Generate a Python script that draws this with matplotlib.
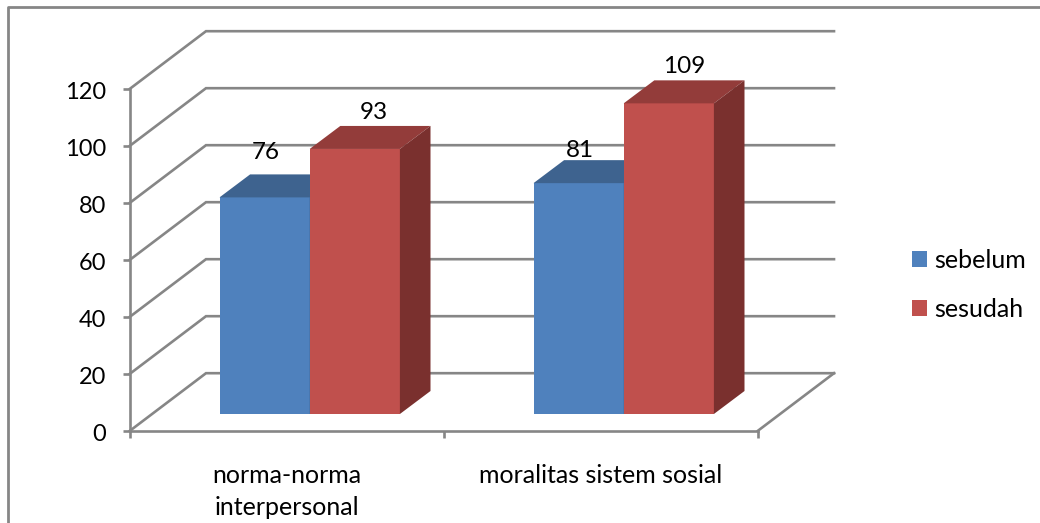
import matplotlib
matplotlib.use("Agg")
import matplotlib.pyplot as plt
from matplotlib.patches import Patch, Polygon
from matplotlib.lines import Line2D
from matplotlib.transforms import ScaledTranslation

categorias = ["norma-norma\ninterpersonal", "moralitas sistem sosial"]
sebelum = [76, 81]
sesudah = [93, 109]
series = ["sebelum", "sesudah"]
ticks_y = [0, 20, 40, 60, 80, 100, 120]

W, H = 1040, 523
GRIS = "#868686"
AZUL, AZUL_TOP = "#4F81BD", "#3E638F"
ROJO, ROJO_TOP, ROJO_LADO = "#C0504D", "#933C3A", "#7A302E"
FS = 17.5
FS_TXT = 18
LW = 1.9

# caja del eje en pixeles (izq, arriba, der, abajo)
X0, Y_TOP, X1, Y_BOT = 130, 88.7, 758, 430.7
PX_X = (X1 - X0) / 2
PX_Y = (Y_BOT - Y_TOP) / 120

# profundidad de la pared, del piso y de las barras
PARED_X, PARED_Y = 76 / PX_X, 57.5 / PX_Y
BARRA_X, BARRA_Y = 30.6 / PX_X, 23 / PX_Y
PISO = 16.7 / PX_Y
INICIO = 89.5 / PX_X
ANCHO = 90.2 / PX_X

plt.rcParams["font.family"] = ["Lato", "DejaVu Sans"]
fig = plt.figure(figsize=(W / 100, H / 100), dpi=100)
ax = fig.add_axes([X0 / W, 1 - Y_BOT / H, (X1 - X0) / W, (Y_BOT - Y_TOP) / H])
ax.set_xlim(0, 2)
ax.set_ylim(0, 120)
ax.patch.set_visible(False)

# marco exterior del grafico, se corta en los bordes derecho e inferior
fig.add_artist(Line2D([8 / W, 8 / W, 1], [0, 1 - 7 / H, 1 - 7 / H], color=GRIS, lw=2))

for s in ["top", "right"]:
    ax.spines[s].set_visible(False)
for s in ["left", "bottom"]:
    ax.spines[s].set_color(GRIS)
    ax.spines[s].set_linewidth(LW)

ax.set_yticks(ticks_y)
ax.tick_params(axis="y", colors=GRIS, labelcolor="black", labelsize=17, length=5, width=LW, pad=12)
# las etiquetas del eje y van un poco por debajo de su marca
baja = ScaledTranslation(0, -2 / 100, fig.dpi_scale_trans)
for t in ax.get_yticklabels():
    t.set_transform(t.get_transform() + baja)
ax.set_xticks([0, 1, 2])
ax.set_xticklabels([])
ax.tick_params(axis="x", colors=GRIS, length=5, width=LW)
ax.set_xticks([0.5, 1.5], minor=True)
ax.set_xticklabels(categorias, minor=True, fontsize=FS_TXT, color="black", linespacing=1.45)
ax.tick_params(axis="x", which="minor", length=0, pad=24)

# pared del fondo y diagonales
for v in ticks_y:
    ax.plot([0, PARED_X, 2 + PARED_X], [v, v + PARED_Y, v + PARED_Y], color=GRIS, lw=LW,
            clip_on=False, zorder=1, solid_joinstyle="miter")
ax.plot([2, 2 + PARED_X], [0, PARED_Y], color=GRIS, lw=LW, clip_on=False, zorder=1)


def barra_3d(x, valor, frente, techo, lado, z):
    # cara frontal con bar, techo y lado como poligonos
    ax.bar(x, valor, ANCHO, bottom=PISO, align="edge", color=frente, zorder=z, clip_on=False)
    arriba = PISO + valor
    der = x + ANCHO
    ax.add_patch(Polygon([(x, arriba), (der, arriba), (der + BARRA_X, arriba + BARRA_Y),
                          (x + BARRA_X, arriba + BARRA_Y)], color=techo, lw=0, zorder=z, clip_on=False))
    ax.add_patch(Polygon([(der, PISO), (der + BARRA_X, PISO + BARRA_Y), (der + BARRA_X, arriba + BARRA_Y),
                          (der, arriba)], color=lado, lw=0, zorder=z, clip_on=False))


# desplazamiento de cada etiqueta de valor respecto de su barra, en pixeles
despl_sebelum = [(1, 45), (1, 33)]
despl_sesudah = [(19, 36), (15, 37)]

for i in range(len(categorias)):
    x_a = i + INICIO
    x_r = x_a + ANCHO
    barra_3d(x_a, sebelum[i], AZUL, AZUL_TOP, AZUL_TOP, 2)
    barra_3d(x_r, sesudah[i], ROJO, ROJO_TOP, ROJO_LADO, 3)
    ax.annotate(str(sebelum[i]), (x_a + ANCHO / 2, PISO + sebelum[i]), xytext=despl_sebelum[i],
                textcoords="offset pixels", ha="center", va="center", fontsize=FS, zorder=5, annotation_clip=False)
    ax.annotate(str(sesudah[i]), (x_r + ANCHO / 2, PISO + sesudah[i]), xytext=despl_sesudah[i],
                textcoords="offset pixels", ha="center", va="center", fontsize=FS, zorder=5, annotation_clip=False)

handles = [Patch(color=AZUL, lw=0), Patch(color=ROJO, lw=0)]
fig.legend(handles, series, loc="upper left", bbox_to_anchor=(912 / W, 1 - 248.5 / H), frameon=False,
           fontsize=FS_TXT, handlelength=0.6, handleheight=0.6, handletextpad=0.3,
           labelspacing=1.05, borderpad=0, borderaxespad=0)

fig.savefig("out.png", dpi=100)
